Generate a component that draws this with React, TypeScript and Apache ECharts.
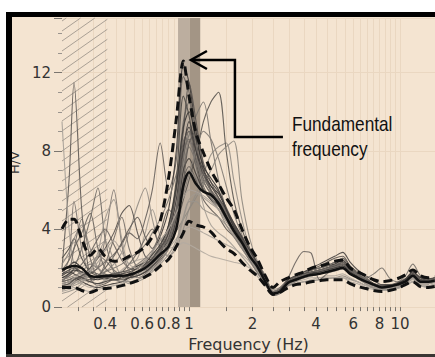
import React, { useEffect, useRef } from "react";
import * as echarts from "echarts";

// Frequency samples (Hz)
const freqs = [0.25, 0.27, 0.285, 0.31, 0.34, 0.37, 0.4, 0.44, 0.48, 0.52, 0.57, 0.62, 0.67, 0.73, 0.8, 0.87, 0.94, 1.0, 1.08, 1.17, 1.27, 1.38, 1.5, 1.63, 1.78, 1.94, 2.1, 2.3, 2.5, 2.7, 2.95, 3.2, 3.5, 3.8, 4.15, 4.5, 4.9, 5.35, 5.8, 6.3, 6.9, 7.5, 8.2, 8.9, 9.7, 10.6, 11.5, 12.5, 13.6, 14.6];

// Average H/V and +/- one standard deviation
const meanHV = [1.9, 2.05, 2.1, 2.0, 1.6, 1.55, 1.6, 1.6, 1.6, 1.65, 1.8, 2.0, 2.3, 2.7, 3.1, 4.0, 6.2, 6.9, 6.3, 5.9, 5.75, 5.3, 4.6, 3.9, 3.3, 2.6, 2.1, 1.3, 0.7, 0.8, 1.25, 1.4, 1.55, 1.65, 1.7, 1.8, 1.9, 2.0, 1.7, 1.5, 1.3, 1.15, 1.0, 1.05, 1.15, 1.3, 1.6, 1.3, 1.3, 1.35];
const upperHV = [4.0, 4.5, 4.5, 3.5, 2.65, 3.0, 2.6, 2.35, 2.4, 2.6, 2.8, 3.1, 3.6, 4.4, 6.6, 9.6, 12.6, 10.8, 8.9, 7.9, 7.0, 6.3, 5.6, 5.0, 4.0, 3.1, 2.5, 1.6, 1.0, 1.3, 1.5, 1.65, 1.8, 2.0, 2.1, 2.2, 2.35, 2.4, 2.0, 1.8, 1.6, 1.4, 1.3, 1.35, 1.45, 1.65, 1.9, 1.6, 1.5, 1.55];
const lowerHV = [1.0, 1.0, 1.0, 0.85, 0.75, 0.9, 0.95, 1.0, 1.1, 1.2, 1.35, 1.55, 1.75, 2.1, 2.45, 3.1, 3.8, 4.4, 4.2, 4.1, 3.85, 3.4, 3.0, 2.75, 2.3, 1.9, 1.6, 1.1, 0.65, 0.75, 1.0, 1.15, 1.2, 1.3, 1.35, 1.4, 1.4, 1.4, 1.2, 1.05, 0.95, 0.85, 0.8, 0.85, 0.95, 1.15, 1.3, 1.05, 1.0, 1.05];

// Individual window H/V curves
const c01 = [2.0, 6.5, 11.5, 5.0, 1.5, 1.1, 1.2, 1.4, 1.3, 1.5, 1.6, 1.8, 2.0, 2.4, 3.0, 4.5, 6.5, 7.2, 6.5, 5.5, 5.0, 4.6, 4.0, 3.6, 3.0, 2.4, 1.9, 1.3, 0.8, 0.9, 1.3, 1.5, 1.6, 1.7, 1.8, 1.9, 2.0, 2.1, 1.8, 1.6, 1.3, 1.1, 1.0, 1.0, 1.1, 1.3, 1.6, 1.3, 1.3, 1.4];
const c02 = [9.5, 4.0, 2.2, 1.6, 1.3, 1.2, 1.4, 1.8, 1.5, 1.3, 1.4, 1.7, 2.0, 2.6, 3.5, 5.0, 7.5, 8.8, 7.0, 5.2, 4.2, 3.8, 3.5, 3.1, 2.6, 2.1, 1.6, 1.1, 0.7, 0.8, 1.1, 1.2, 1.3, 1.35, 1.4, 1.45, 1.5, 1.5, 1.4, 1.3, 1.1, 1.0, 0.9, 0.85, 0.95, 1.1, 1.3, 1.1, 1.1, 1.2];
const c03 = [1.4, 1.6, 2.0, 3.0, 4.5, 6.1, 3.5, 1.8, 1.5, 1.6, 1.7, 2.0, 2.4, 3.0, 4.0, 6.0, 9.5, 10.5, 8.0, 6.2, 5.5, 5.0, 4.4, 3.8, 3.2, 2.6, 2.0, 1.4, 0.7, 0.8, 1.3, 1.5, 1.7, 1.8, 1.9, 2.0, 2.1, 2.3, 1.9, 1.6, 1.3, 1.1, 1.0, 1.0, 1.1, 1.3, 1.6, 1.3, 1.3, 1.4];
const c04 = [1.6, 2.5, 5.4, 3.0, 1.8, 2.0, 3.5, 6.0, 3.2, 1.8, 1.5, 1.7, 2.1, 2.6, 3.3, 4.5, 7.0, 8.5, 7.5, 6.8, 6.0, 5.4, 4.6, 4.0, 3.3, 2.6, 2.0, 1.4, 0.8, 0.9, 1.2, 1.4, 1.6, 1.7, 1.8, 1.9, 2.0, 2.2, 1.8, 1.5, 1.2, 1.0, 0.9, 0.9, 1.0, 1.2, 1.5, 1.2, 1.2, 1.3];
const c05 = [1.2, 1.3, 1.5, 1.4, 1.3, 1.5, 1.8, 2.2, 2.8, 3.8, 5.2, 6.1, 4.5, 3.0, 2.6, 3.0, 4.0, 5.0, 5.8, 6.8, 7.8, 8.2, 8.4, 6.5, 4.5, 3.0, 2.2, 1.5, 0.8, 0.9, 1.1, 1.2, 1.3, 1.35, 1.4, 1.45, 1.5, 1.6, 1.45, 1.3, 1.1, 0.95, 0.85, 0.85, 0.95, 1.1, 1.3, 1.1, 1.05, 1.15];
const c06 = [1.0, 1.1, 1.3, 1.5, 1.7, 2.0, 2.3, 2.7, 3.2, 3.8, 3.5, 4.5, 6.0, 8.4, 6.0, 7.5, 11.8, 11.0, 8.5, 6.5, 5.8, 5.4, 4.8, 4.2, 3.5, 2.8, 2.1, 1.4, 0.7, 0.8, 1.3, 1.5, 1.7, 1.8, 1.9, 2.0, 2.2, 2.4, 2.0, 1.7, 1.4, 1.2, 1.0, 1.0, 1.1, 1.4, 1.7, 1.4, 1.3, 1.4];
const c07 = [1.3, 1.4, 1.5, 1.3, 1.1, 1.0, 1.1, 1.2, 1.3, 1.5, 1.8, 2.2, 2.8, 3.6, 5.0, 8.0, 12.4, 11.5, 9.0, 7.0, 6.2, 5.6, 5.0, 4.3, 3.6, 2.9, 2.2, 1.5, 0.7, 0.8, 1.3, 1.6, 1.8, 1.9, 2.0, 2.1, 2.2, 2.4, 2.0, 1.7, 1.4, 1.2, 1.1, 1.1, 1.2, 1.4, 1.8, 1.5, 1.4, 1.5];
const c08 = [1.1, 1.2, 1.4, 1.6, 1.8, 1.7, 1.5, 1.4, 1.5, 1.7, 2.0, 2.3, 2.6, 3.0, 3.5, 4.2, 5.5, 6.5, 7.8, 9.5, 10.5, 11.0, 8.0, 5.5, 4.0, 3.0, 2.3, 1.6, 0.8, 0.9, 1.3, 1.5, 1.7, 1.9, 2.0, 2.1, 2.3, 2.5, 2.1, 1.8, 1.5, 1.2, 1.1, 1.1, 1.2, 1.4, 1.7, 1.4, 1.3, 1.4];
const c09 = [1.7, 1.8, 1.9, 1.7, 1.5, 1.6, 1.8, 2.0, 2.2, 2.5, 2.8, 3.2, 3.8, 4.5, 5.5, 6.8, 8.0, 8.8, 9.8, 10.5, 8.5, 6.5, 5.0, 4.2, 3.5, 2.8, 2.1, 1.4, 0.75, 0.85, 1.2, 1.4, 1.6, 1.7, 1.8, 1.9, 2.0, 2.2, 1.8, 1.6, 1.3, 1.1, 1.0, 1.0, 1.1, 1.3, 1.6, 1.3, 1.2, 1.3];
const c10 = [0.9, 1.0, 1.2, 1.4, 1.6, 1.5, 1.4, 1.5, 1.7, 1.9, 2.1, 2.4, 2.7, 3.0, 3.4, 3.9, 4.5, 5.0, 5.6, 6.3, 7.0, 7.8, 8.2, 8.5, 5.5, 3.5, 2.4, 1.6, 0.9, 1.0, 1.3, 1.5, 1.6, 1.7, 1.8, 1.9, 2.0, 2.1, 1.8, 1.6, 1.3, 1.1, 1.0, 1.0, 1.1, 1.3, 1.5, 1.3, 1.2, 1.3];
const c11 = [1.8, 2.1, 2.3, 2.0, 1.5, 1.4, 1.5, 1.5, 1.6, 1.7, 1.8, 2.0, 2.3, 2.8, 3.5, 5.0, 8.0, 9.5, 8.0, 6.8, 6.2, 5.8, 5.0, 4.2, 3.5, 2.8, 2.2, 1.4, 0.65, 0.8, 1.3, 1.5, 1.7, 1.8, 1.9, 2.0, 2.1, 2.2, 1.9, 1.6, 1.4, 1.2, 1.05, 1.1, 1.2, 1.4, 1.7, 1.4, 1.4, 1.4];
const c12 = [2.5, 3.0, 3.5, 2.5, 1.8, 1.6, 1.5, 1.4, 1.5, 1.6, 1.8, 2.1, 2.5, 3.1, 4.2, 6.5, 10.8, 9.8, 7.5, 6.0, 5.5, 5.2, 4.6, 4.0, 3.4, 2.7, 2.0, 1.3, 0.7, 0.8, 1.2, 1.4, 1.6, 1.7, 1.8, 1.8, 1.9, 2.0, 1.8, 1.5, 1.3, 1.1, 1.0, 1.0, 1.1, 1.3, 1.6, 1.3, 1.3, 1.4];
const c13 = [0.8, 0.9, 1.0, 0.9, 0.8, 0.9, 1.0, 1.1, 1.2, 1.4, 1.6, 1.9, 2.2, 2.6, 3.0, 3.5, 3.9, 4.1, 4.0, 3.8, 3.6, 3.4, 3.2, 3.0, 2.7, 2.3, 1.8, 1.2, 0.7, 0.8, 1.1, 1.2, 1.3, 1.4, 1.5, 1.5, 1.5, 1.5, 1.3, 1.2, 1.0, 0.9, 0.85, 0.85, 0.95, 1.1, 1.3, 1.1, 1.0, 1.1];
const c14 = [1.0, 1.1, 1.3, 1.2, 1.0, 1.1, 1.3, 1.6, 1.9, 2.2, 2.4, 2.5, 2.6, 2.8, 3.0, 3.1, 3.3, 3.2, 3.0, 2.8, 2.6, 2.5, 2.4, 2.3, 2.2, 2.0, 1.7, 1.2, 0.8, 0.9, 1.1, 1.3, 1.4, 1.5, 1.5, 1.6, 1.6, 1.7, 1.5, 1.3, 1.1, 1.0, 0.9, 0.9, 1.0, 1.1, 1.3, 1.1, 1.1, 1.2];
const c15 = [1.5, 1.6, 1.8, 2.2, 2.8, 3.5, 4.0, 3.2, 2.4, 2.0, 1.9, 2.1, 2.4, 2.9, 3.8, 5.5, 8.5, 9.0, 7.2, 6.0, 5.6, 5.2, 4.7, 4.0, 3.2, 2.5, 1.9, 1.3, 0.8, 1.0, 1.5, 2.3, 2.85, 2.75, 1.4, 1.7, 2.0, 2.3, 2.0, 1.7, 1.4, 1.2, 1.1, 1.0, 1.1, 1.3, 1.6, 1.3, 1.3, 1.4];
const c16 = [1.3, 1.4, 1.5, 1.6, 2.0, 2.6, 2.4, 1.9, 1.6, 1.5, 1.6, 1.8, 2.1, 2.6, 3.4, 4.8, 7.0, 8.2, 7.4, 6.4, 5.8, 5.3, 4.6, 4.0, 3.3, 2.6, 2.0, 1.4, 0.75, 0.9, 1.4, 1.6, 1.8, 1.9, 2.0, 2.1, 2.3, 2.5, 2.1, 1.7, 1.5, 1.7, 2.0, 1.5, 1.3, 1.6, 2.2, 1.6, 1.4, 1.5];
const c17 = [1.2, 1.3, 1.4, 1.6, 2.0, 2.5, 3.0, 3.8, 4.8, 5.2, 3.8, 2.6, 2.4, 2.8, 3.8, 6.0, 9.0, 11.5, 9.5, 7.2, 6.0, 5.3, 4.5, 3.8, 3.1, 2.4, 1.8, 1.2, 0.6, 0.7, 1.2, 1.4, 1.6, 1.7, 1.8, 1.9, 2.1, 2.3, 1.9, 1.6, 1.3, 1.1, 0.95, 0.95, 1.05, 1.25, 1.55, 1.25, 1.25, 1.35];
const c18 = [2.2, 2.8, 3.5, 4.2, 3.0, 2.0, 1.6, 1.4, 1.3, 1.3, 1.4, 1.6, 1.9, 2.3, 3.0, 4.2, 6.0, 7.0, 6.6, 6.0, 5.6, 5.0, 4.2, 3.6, 3.0, 2.4, 1.8, 1.2, 0.6, 0.7, 1.1, 1.3, 1.5, 1.6, 1.7, 1.8, 1.9, 2.0, 1.7, 1.5, 1.2, 1.0, 0.9, 0.9, 1.0, 1.2, 1.5, 1.2, 1.2, 1.3];
const c19 = [1.6, 1.8, 1.7, 1.5, 1.3, 1.2, 1.3, 1.4, 1.4, 1.5, 1.6, 1.8, 2.1, 2.5, 3.2, 4.5, 7.0, 7.6, 6.8, 6.0, 5.7, 5.4, 4.7, 4.0, 3.3, 2.6, 2.0, 1.4, 0.7, 0.85, 1.25, 1.45, 1.6, 1.7, 1.8, 1.85, 1.95, 2.1, 1.8, 1.55, 1.3, 1.1, 1.0, 1.0, 1.1, 1.3, 1.6, 1.3, 1.3, 1.4];
const c20 = [1.0, 1.0, 1.1, 1.3, 1.8, 2.8, 4.5, 5.5, 3.5, 2.2, 2.5, 3.8, 5.0, 3.6, 2.6, 3.2, 4.5, 5.5, 5.8, 5.6, 5.3, 5.0, 4.5, 3.9, 3.2, 2.5, 1.9, 1.3, 0.7, 0.8, 1.2, 1.4, 1.5, 1.6, 1.7, 1.8, 1.9, 2.0, 1.7, 1.5, 1.2, 1.0, 0.9, 0.9, 1.0, 1.2, 1.4, 1.2, 1.2, 1.3];
const c21 = [1.3, 1.8, 3.0, 4.5, 2.5, 1.6, 2.2, 3.5, 4.6, 3.0, 2.0, 1.9, 2.2, 2.8, 3.6, 5.0, 7.8, 8.6, 7.6, 6.6, 6.0, 5.5, 4.8, 4.1, 3.4, 2.7, 2.1, 1.4, 0.7, 0.85, 1.25, 1.5, 1.65, 1.75, 1.85, 1.95, 2.05, 2.2, 1.85, 1.6, 1.3, 1.1, 1.0, 1.0, 1.1, 1.3, 1.65, 1.35, 1.3, 1.4];
const c22 = [1.1, 1.2, 1.4, 1.5, 1.4, 1.6, 2.0, 2.6, 3.3, 4.0, 4.6, 3.6, 3.0, 3.8, 5.0, 4.6, 6.5, 8.4, 9.0, 7.4, 6.4, 5.6, 4.9, 4.2, 3.5, 2.8, 2.2, 1.5, 0.75, 0.85, 1.3, 1.5, 1.7, 1.9, 2.1, 2.3, 2.5, 2.6, 2.1, 1.7, 1.35, 1.15, 1.05, 1.05, 1.15, 1.35, 1.7, 1.4, 1.35, 1.45];
const c23 = [0.7, 0.8, 0.9, 1.2, 1.8, 2.6, 3.4, 2.4, 1.5, 1.2, 1.3, 1.5, 1.8, 2.2, 2.7, 3.4, 4.6, 5.4, 5.4, 5.0, 4.8, 4.6, 4.2, 3.7, 3.1, 2.5, 1.9, 1.3, 0.7, 0.8, 1.15, 1.35, 1.5, 1.6, 1.7, 1.75, 1.85, 1.95, 1.7, 1.45, 1.2, 1.0, 0.9, 0.9, 1.0, 1.2, 1.45, 1.2, 1.2, 1.3];
const c24 = [1.5, 1.7, 1.9, 1.8, 1.6, 1.5, 1.6, 1.7, 1.8, 1.9, 2.1, 2.3, 2.7, 3.2, 4.2, 6.2, 9.2, 10.0, 8.6, 7.2, 6.6, 6.0, 5.0, 4.1, 3.4, 2.7, 2.1, 1.4, 0.7, 0.8, 1.25, 1.45, 1.6, 1.75, 1.8, 1.9, 2.0, 2.1, 1.8, 1.55, 1.3, 1.15, 1.0, 1.05, 1.15, 1.3, 1.6, 1.3, 1.3, 1.35];
const c25 = [1.4, 1.5, 1.6, 1.8, 2.2, 2.0, 1.7, 1.6, 1.7, 1.9, 2.2, 2.5, 2.9, 3.4, 4.0, 4.8, 5.8, 6.8, 8.0, 9.0, 8.6, 7.6, 6.2, 4.8, 3.7, 2.8, 2.1, 1.4, 0.7, 0.8, 1.2, 1.4, 1.55, 1.65, 1.75, 1.85, 1.95, 2.05, 1.75, 1.5, 1.25, 1.1, 0.95, 1.0, 1.1, 1.25, 1.55, 1.25, 1.25, 1.35];
const c26 = [1.9, 2.4, 3.0, 3.8, 4.8, 3.0, 2.0, 1.7, 1.8, 2.2, 2.8, 3.5, 4.0, 3.2, 3.4, 4.8, 7.5, 9.0, 8.2, 6.8, 5.9, 5.2, 4.5, 3.9, 3.2, 2.6, 2.0, 1.35, 0.7, 0.8, 1.3, 1.5, 1.65, 1.8, 1.9, 2.0, 2.15, 2.3, 1.95, 1.65, 1.4, 1.2, 1.05, 1.05, 1.15, 1.35, 1.65, 1.35, 1.35, 1.4];
const c27 = [1.7, 1.9, 2.0, 1.8, 1.6, 1.5, 1.5, 1.6, 1.7, 1.8, 2.0, 2.2, 2.5, 3.0, 3.8, 5.5, 8.2, 9.2, 8.0, 7.0, 6.4, 5.9, 5.1, 4.3, 3.6, 2.9, 2.3, 1.5, 0.75, 0.9, 1.4, 1.6, 1.8, 2.0, 2.2, 2.4, 2.6, 2.8, 2.3, 1.9, 1.6, 1.35, 1.15, 1.15, 1.25, 1.45, 1.8, 1.5, 1.45, 1.5];
const c28 = [1.2, 1.3, 1.5, 1.7, 1.9, 2.3, 2.9, 3.4, 2.8, 2.2, 2.0, 2.3, 2.8, 3.4, 4.0, 4.8, 5.6, 6.0, 5.9, 5.7, 5.4, 5.0, 4.4, 3.8, 3.2, 2.6, 2.0, 1.4, 0.75, 0.85, 1.2, 1.4, 1.5, 1.6, 1.7, 1.8, 1.85, 1.95, 1.7, 1.5, 1.25, 1.05, 0.95, 0.95, 1.05, 1.2, 1.5, 1.2, 1.2, 1.3];

const windowCurves = [c01, c02, c03, c04, c05, c06, c07, c08, c09, c10, c11, c12, c13, c14, c15, c16, c17, c18, c19, c20, c21, c22, c23, c24, c25, c26, c27, c28];
const curveShades = ["#5f5a55", "#a59e96", "#6d6863", "#7f7872", "#948d85", "#67615c", "#3f3b38", "#5a5550", "#7a746e", "#8f8880", "#343130", "#4d4945", "#ada59c", "#b4aba1", "#6a645f", "#78726c", "#55504c", "#8c857e", "#423e3b", "#a0988f", "#726c66", "#5d5853", "#9a938b", "#3a3735", "#837c75", "#6c6661", "#474340", "#a8a097"];

// Axis ticks / labels
const xTickValues = [0.3, 0.35, 0.4, 0.45, 0.5, 0.55, 0.6, 0.65, 0.7, 0.75, 0.8, 0.85, 0.9, 0.95, 1, 1.5, 2, 2.5, 3, 3.5, 4, 4.5, 5, 5.5, 6, 6.5, 7, 7.5, 8, 8.5, 9, 9.5, 10];
const xLabelValues = [0.4, 0.6, 0.8, 1, 2, 4, 6, 8, 10];

// Regions
const hatchRange = [[0.25, 0.41, 14.8]];
const bandRanges = [[0.887, 1.01, 14.8, 0], [1.01, 1.13, 14.8, 1]];
const bandShades = ["#bcae9f", "#a39585"];
const fundamentalPoint = [[1.01, 12.65]];

const X_MIN = 0.25;
const X_MAX = 14.65;
const Y_MAX = 14.8;

const pairs = (vals: number[]) => freqs.map((f, i) => [f, vals[i]]);

export default function App() {
  const ref = useRef<HTMLDivElement>(null);
  useEffect(() => {
    if (!ref.current) return;
    const chart = echarts.init(ref.current, undefined, { renderer: "svg" });
    const font = "DejaVu Sans";

    const curveSeries = windowCurves.map((vals, k) => ({
      type: "line",
      data: pairs(vals),
      symbol: "none",
      smooth: 0.3,
      silent: true,
      z: 3,
      lineStyle: { color: curveShades[k], width: 1.1, opacity: 0.9 },
    }));

    const option: any = {
      animation: false,
      backgroundColor: "#ffffff",
      grid: { left: 62, right: 0, top: 18, bottom: 49, containLabel: false },
      graphic: {
        elements: [
          { type: "rect", z: -10, shape: { x: 6, y: 12, width: 429, height: 345 }, style: { fill: "#f4e4d1" } },
          { type: "rect", z: 100, shape: { x: 6, y: 12, width: 429, height: 5 }, style: { fill: "#000" } },
          { type: "rect", z: 100, shape: { x: 6, y: 12, width: 6, height: 345 }, style: { fill: "#000" } },
          { type: "rect", z: 100, shape: { x: 6, y: 354, width: 429, height: 3 }, style: { fill: "#3a3633" } },
        ],
      },
      xAxis: {
        type: "log",
        logBase: 10,
        min: X_MIN,
        max: X_MAX,
        name: "Frequency (Hz)",
        nameLocation: "middle",
        nameGap: 27,
        nameTextStyle: { fontFamily: font, fontSize: 16, color: "#333" },
        axisLine: { show: false },
        axisTick: { show: true, customValues: xTickValues, length: 4, lineStyle: { color: "#7a756f" } },
        axisLabel: { customValues: xLabelValues, fontFamily: font, fontSize: 15, color: "#333", margin: 9, formatter: (v: number) => String(v) },
        splitLine: { show: true, lineStyle: { color: "#ead7c1", width: 1 } },
        minorTick: { show: false },
      },
      yAxis: {
        type: "value",
        min: 0,
        max: Y_MAX,
        interval: 4,
        name: "H/V",
        nameLocation: "middle",
        nameGap: 27,
        nameTextStyle: { fontFamily: font, fontSize: 13, color: "#333" },
        axisLine: { show: false },
        axisTick: { show: true, length: 8, lineStyle: { color: "#7a756f" } },
        minorTick: { show: true, splitNumber: 4, length: 4, lineStyle: { color: "#9a948e" } },
        axisLabel: { fontFamily: font, fontSize: 15, color: "#333", margin: 11, showMaxLabel: false },
        splitLine: { show: true, lineStyle: { color: "#ead7c1", width: 1 } },
      },
      series: [
        {
          type: "custom",
          name: "hatch",
          silent: true,
          z: 1,
          data: hatchRange,
          encode: { x: [0, 1], y: 2 },
          renderItem: (params: any, api: any) => {
            const p0 = api.coord([api.value(0), api.value(2)]);
            const p1 = api.coord([api.value(1), 0]);
            const left = p0[0], top = p0[1], right = p1[0], bottom = p1[1];
            const w = right - left;
            const s = 0.7, step = 10;
            const children: any[] = [];
            for (let c = top + 3; c < bottom + s * w; c += step) {
              const xa = Math.max(left, left + (c - bottom) / s);
              const xb = Math.min(right, left + (c - top) / s);
              if (xb > xa) {
                children.push({
                  type: "line",
                  shape: { x1: xa, y1: c - s * (xa - left), x2: xb, y2: c - s * (xb - left) },
                  style: { stroke: "#aaa095", lineWidth: 1 },
                });
              }
            }
            return { type: "group", children };
          },
        },
        {
          type: "custom",
          name: "band",
          silent: true,
          z: 1,
          data: bandRanges,
          encode: { x: [0, 1], y: 2 },
          renderItem: (params: any, api: any) => {
            const p0 = api.coord([api.value(0), api.value(2)]);
            const p1 = api.coord([api.value(1), 0]);
            return {
              type: "rect",
              shape: { x: p0[0], y: p0[1], width: p1[0] - p0[0], height: p1[1] - p0[1] },
              style: { fill: bandShades[api.value(3)] },
            };
          },
        },
        ...curveSeries,
        {
          type: "line", name: "upper", data: pairs(upperHV), symbol: "none", smooth: 0.3, silent: true, z: 5,
          lineStyle: { color: "#111", width: 3, type: [9, 5] },
        },
        {
          type: "line", name: "lower", data: pairs(lowerHV), symbol: "none", smooth: 0.3, silent: true, z: 5,
          lineStyle: { color: "#111", width: 3, type: [9, 5] },
        },
        {
          type: "line", name: "mean", data: pairs(meanHV), symbol: "none", smooth: 0.3, silent: true, z: 5,
          lineStyle: { color: "#111", width: 2.5 },
        },
        {
          type: "custom",
          name: "annotation",
          silent: true,
          z: 10,
          clip: false,
          data: fundamentalPoint,
          encode: { x: 0, y: 1 },
          renderItem: (params: any, api: any) => {
            const p = api.coord([api.value(0), api.value(1)]);
            const tx = p[0], ty = p[1];
            return {
              type: "group",
              children: [
                {
                  type: "polyline",
                  shape: { points: [[tx + 93, ty + 77], [tx + 45, ty + 77], [tx + 45, ty], [tx + 2, ty]] },
                  style: { stroke: "#000", lineWidth: 2.5, fill: null },
                },
                {
                  type: "polyline",
                  shape: { points: [[tx + 17, ty - 9], [tx + 1, ty], [tx + 17, ty + 9]] },
                  style: { stroke: "#000", lineWidth: 2.5, fill: null },
                },
                {
                  type: "text",
                  x: tx + 102,
                  y: ty + 51,
                  scaleX: 0.82,
                  style: {
                    text: "Fundamental\nfrequency",
                    fontFamily: "Liberation Sans",
                    fontSize: 21,
                    lineHeight: 25,
                    fill: "#111",
                    align: "left",
                    verticalAlign: "top",
                  },
                },
              ],
            };
          },
        },
      ],
    };
    chart.setOption(option);
    return () => chart.dispose();
  }, []);
  return (
    <div
      ref={ref}
      style={{ position: "absolute", left: 0, top: 0, width: 435, height: 357, background: "#fff" }}
    />
  );
}
